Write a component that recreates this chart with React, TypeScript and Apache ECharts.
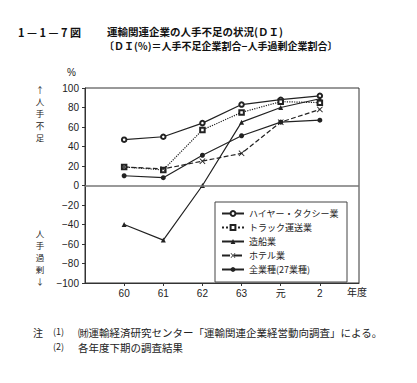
import React, { useEffect, useRef } from "react";
import * as echarts from "echarts";

const categories = ["60", "61", "62", "63", "元", "2"];
const axisCats = ["L", ...categories, "R"];
const yTicks = { min: -100, max: 100, interval: 20 };

const seriesNames = [
  "ハイヤー・タクシー業",
  "トラック運送業",
  "造船業",
  "ホテル業",
  "全業種(27業種)",
];
const taxi = [47, 50, 64, 83, 88, 92];
const truck = [19, 16, 57, 75, 86, 85];
const ship = [-40, -56, 0, 65, 80, 89];
const hotel = [19, 17, 25, 33, 65, 78];
const allInd = [10, 8, 31, 51, 65, 67];

const shortageLabel = ["↑", "人", "手", "不", "足"];
const surplusLabel = ["人", "手", "過", "剰", "↓"];

const CROSS =
  "path://M0,1L1,0L5,4L9,0L10,1L6,5L10,9L9,10L5,6L1,10L0,9L4,5Z";

const JP = "'Noto Sans CJK JP', 'Noto Sans', sans-serif";
const INK = "#222";

function toData(vals: number[]) {
  return vals.map((v, i) => [i + 1, v]);
}

export default function App() {
  const ref = useRef<HTMLDivElement>(null);
  useEffect(() => {
    if (!ref.current) return;
    const chart = echarts.init(ref.current, null, { renderer: "svg" });
    const base = (
      name: string,
      vals: number[],
      symbol: string,
      lineType: "solid" | "dashed" | "dotted"
    ) => ({
      name,
      type: "line",
      data: toData(vals),
      symbol,
      symbolSize: symbol === CROSS ? 6 : symbol.startsWith("empty") ? 4.5 : 5,
      showAllSymbol: true,
      lineStyle: { color: INK, width: 1.2, type: lineType },
      itemStyle: { color: INK, borderWidth: 0.9 },
      z: 3,
    });
    const series: any[] = [
      {
        ...base(seriesNames[0], taxi, "emptyCircle", "solid"),
        markLine: {
          silent: true,
          symbol: ["none", "none"],
          label: { show: false },
          lineStyle: { color: "#777", width: 1.5, type: "solid" },
          data: [{ yAxis: 0 }],
        },
      },
      base(seriesNames[1], truck, "emptyRect", "dotted"),
      base(seriesNames[2], ship, "triangle", "solid"),
      base(seriesNames[3], hotel, CROSS, "dashed"),
      base(seriesNames[4], allInd, "circle", "solid"),
    ];
    const vChars = (chars: string[], top: number) =>
      chars.map((c, i) => ({
        type: "text",
        x: 40,
        y: top + i * 12,
        style: { text: c, fontSize: 8.5, fontFamily: JP, fill: INK, align: "center", verticalAlign: "top" },
      }));
    chart.setOption({
      animation: false,
      backgroundColor: "#fff",
      grid: {
        left: 85,
        right: 58,
        top: 88,
        bottom: 100,
        show: true,
        borderColor: "#333",
        borderWidth: 1,
      },
      xAxis: {
        type: "category",
        data: axisCats,
        boundaryGap: false,
        axisLine: { onZero: false, lineStyle: { color: "#333", width: 1 } },
        axisTick: {
          show: true,
          inside: false,
          length: 3,
          interval: (i: number) => i > 0 && i < axisCats.length - 1,
          lineStyle: { color: "#333" },
        },
        axisLabel: {
          interval: 0,
          margin: 5,
          color: INK,
          fontSize: 10,
          fontFamily: "'Liberation Sans', " + JP,
          formatter: (v: string) => (v === "L" || v === "R" ? "" : v),
        },
        splitLine: { show: false },
      },
      yAxis: {
        type: "value",
        min: yTicks.min,
        max: yTicks.max,
        interval: yTicks.interval,
        axisLine: { show: true, lineStyle: { color: "#333", width: 1 } },
        axisTick: { show: true, length: 3, lineStyle: { color: "#333" } },
        axisLabel: {
          margin: 6,
          color: INK,
          fontSize: 10,
          fontFamily: "'Liberation Sans', sans-serif",
          formatter: (v: number) => (v < 0 ? "−" + Math.abs(v) : String(v)),
        },
        splitLine: { show: false },
      },
      legend: {
        orient: "vertical",
        left: 215,
        top: 202,
        data: seriesNames,
        itemWidth: 22,
        itemHeight: 6,
        itemGap: 5,
        padding: [7, 8, 8, 6],
        borderColor: "#444",
        borderWidth: 1,
        backgroundColor: "#fff",
        textStyle: { fontSize: 9, color: INK, fontFamily: JP, lineHeight: 9 },
      },
      graphic: [
        {
          type: "text",
          left: 18,
          top: 26,
          style: { text: "1 — 1 — 7 図", fontSize: 11, fontFamily: JP, fill: "#111", fontWeight: "bold" },
        },
        {
          type: "text",
          left: 107,
          top: 26,
          style: { text: "運輸関連企業の人手不足の状況(ＤＩ)", fontSize: 10.5, fontFamily: JP, fill: "#111", fontWeight: "bold" },
        },
        {
          type: "text",
          left: 104,
          top: 40,
          style: { text: "〔ＤＩ(％)＝人手不足企業割合−人手過剰企業割合〕", fontSize: 10, fontFamily: JP, fill: "#111", fontWeight: "bold" },
        },
        {
          type: "text",
          left: 67,
          top: 67,
          style: { text: "%", fontSize: 10, fontFamily: "'Liberation Sans', sans-serif", fill: INK },
        },
        ...vChars(shortageLabel, 85),
        ...vChars(surplusLabel, 229),
        {
          type: "text",
          left: 347,
          top: 286,
          style: { text: "年度", fontSize: 10, fontFamily: JP, fill: INK },
        },
        {
          type: "text",
          left: 33,
          top: 327,
          style: { text: "注", fontSize: 10, fontFamily: JP, fill: INK },
        },
        {
          type: "text",
          left: 53,
          top: 327,
          style: { text: "(1)", fontSize: 9, fontFamily: JP, fill: INK },
        },
        {
          type: "text",
          left: 78,
          top: 327,
          style: { text: "㈶運輸経済研究センター「運輸関連企業経営動向調査」による。", fontSize: 10.5, fontFamily: JP, fill: INK },
        },
        {
          type: "text",
          left: 53,
          top: 342,
          style: { text: "(2)", fontSize: 9, fontFamily: JP, fill: INK },
        },
        {
          type: "text",
          left: 78,
          top: 342,
          style: { text: "各年度下期の調査結果", fontSize: 10.5, fontFamily: JP, fill: INK },
        },
      ],
      series,
    });
    return () => chart.dispose();
  }, []);
  return <div ref={ref} style={{ width: 417, height: 383, position: "absolute", left: 0, top: 0 }} />;
}
